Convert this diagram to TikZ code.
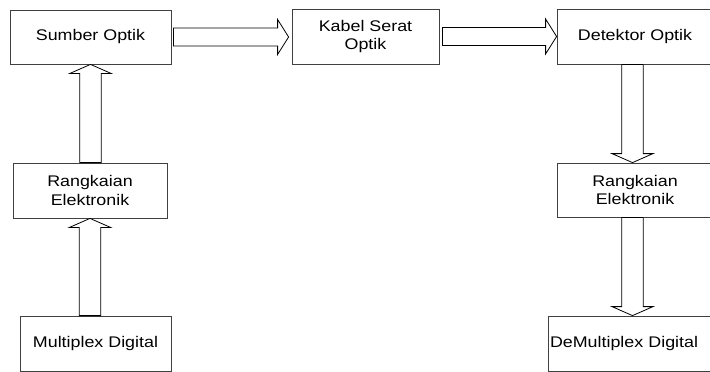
\documentclass[tikz,border=0pt]{standalone}
\usepackage{fontspec}
\setmainfont{Liberation Sans}[FakeStretch=1.16]
\usepackage{tikz}
\usetikzlibrary{calc}

\tikzset{
  blok/.style={rectangle, draw=black!75, line width=0.8pt, inner sep=0pt, align=center,
    font=\fontsize{15.4}{18.3}\selectfont},
  panah/.style={draw=black, line width=0.8pt, fill=white, line join=miter}
}

% panah blok mendatar (ke kanan) dan tegak
\newcommand{\panahkanan}[2]{%
  \draw[panah] let \p1=(#1), \p2=(#2) in
    (\x1,\y1+9pt) -- (\x2-11pt,\y1+9pt) -- (\x2-11pt,\y1+17.5pt) -- (\x2,\y1)
    -- (\x2-11pt,\y1-17.5pt) -- (\x2-11pt,\y1-9pt) -- (\x1,\y1-9pt) -- cycle;}
\newcommand{\panahtegak}[3]{% #3 = arah: 1 naik, -1 turun
  \draw[panah] let \p1=(#1), \p2=(#2) in
    (\x2-10.75pt,\y1) -- (\x2-10.75pt,\y2-#3*9pt) -- (\x2-20.5pt,\y2-#3*9pt) -- (\x2,\y2)
    -- (\x2+20.5pt,\y2-#3*9pt) -- (\x2+10.75pt,\y2-#3*9pt) -- (\x2+10.75pt,\y1) -- cycle;}

\begin{document}
\begin{tikzpicture}[x=1pt, y=1pt]
    \useasboundingbox (0,0) rectangle (710,-372);
    \clip (0,0) rectangle (710,-372);

    % Blok pemancar
    \node[blok, minimum width=161, minimum height=54] (sumber) at (90.5,-37) {Sumber Optik};
    \node[blok, minimum width=154, minimum height=55] (rangkaian1) at (90,-190.5) {Rangkaian\\Elektronik};
    \node[blok, minimum width=151, minimum height=55] (multiplex) at (95.5,-343.5) {Multiplex Digital};
    % Saluran
    \node[blok, minimum width=147, minimum height=55] (kabel) at (365.5,-36.5) {Kabel Serat\\Optik};
    % Blok penerima
    \node[blok, minimum width=156, minimum height=55] (detektor) at (635,-36.5) {Detektor Optik};
    \node[blok, minimum width=156, minimum height=54] (rangkaian2) at (635,-190) {Rangkaian\\Elektronik};
    \node[blok, text width=163, align=left, inner xsep=2pt, minimum height=55] (demux) at (631.5,-343.5) {DeMultiplex Digital};

    % Panah
    \panahtegak{multiplex.north}{rangkaian1.south}{1}
    \panahtegak{rangkaian1.north}{sumber.south}{1}
    \panahkanan{$(sumber.east)+(2,0)$}{$(kabel.west)+(-3,0)$}
    \panahkanan{$(kabel.east)+(3,0)$}{detektor.west}
    \panahtegak{$(detektor.south)+(-2.5,0)$}{$(rangkaian2.north)+(-2.5,0)$}{-1}
    \panahtegak{$(rangkaian2.south)+(-2.5,0)$}{$(demux.north)+(1,0)$}{-1}
\end{tikzpicture}
\end{document}
